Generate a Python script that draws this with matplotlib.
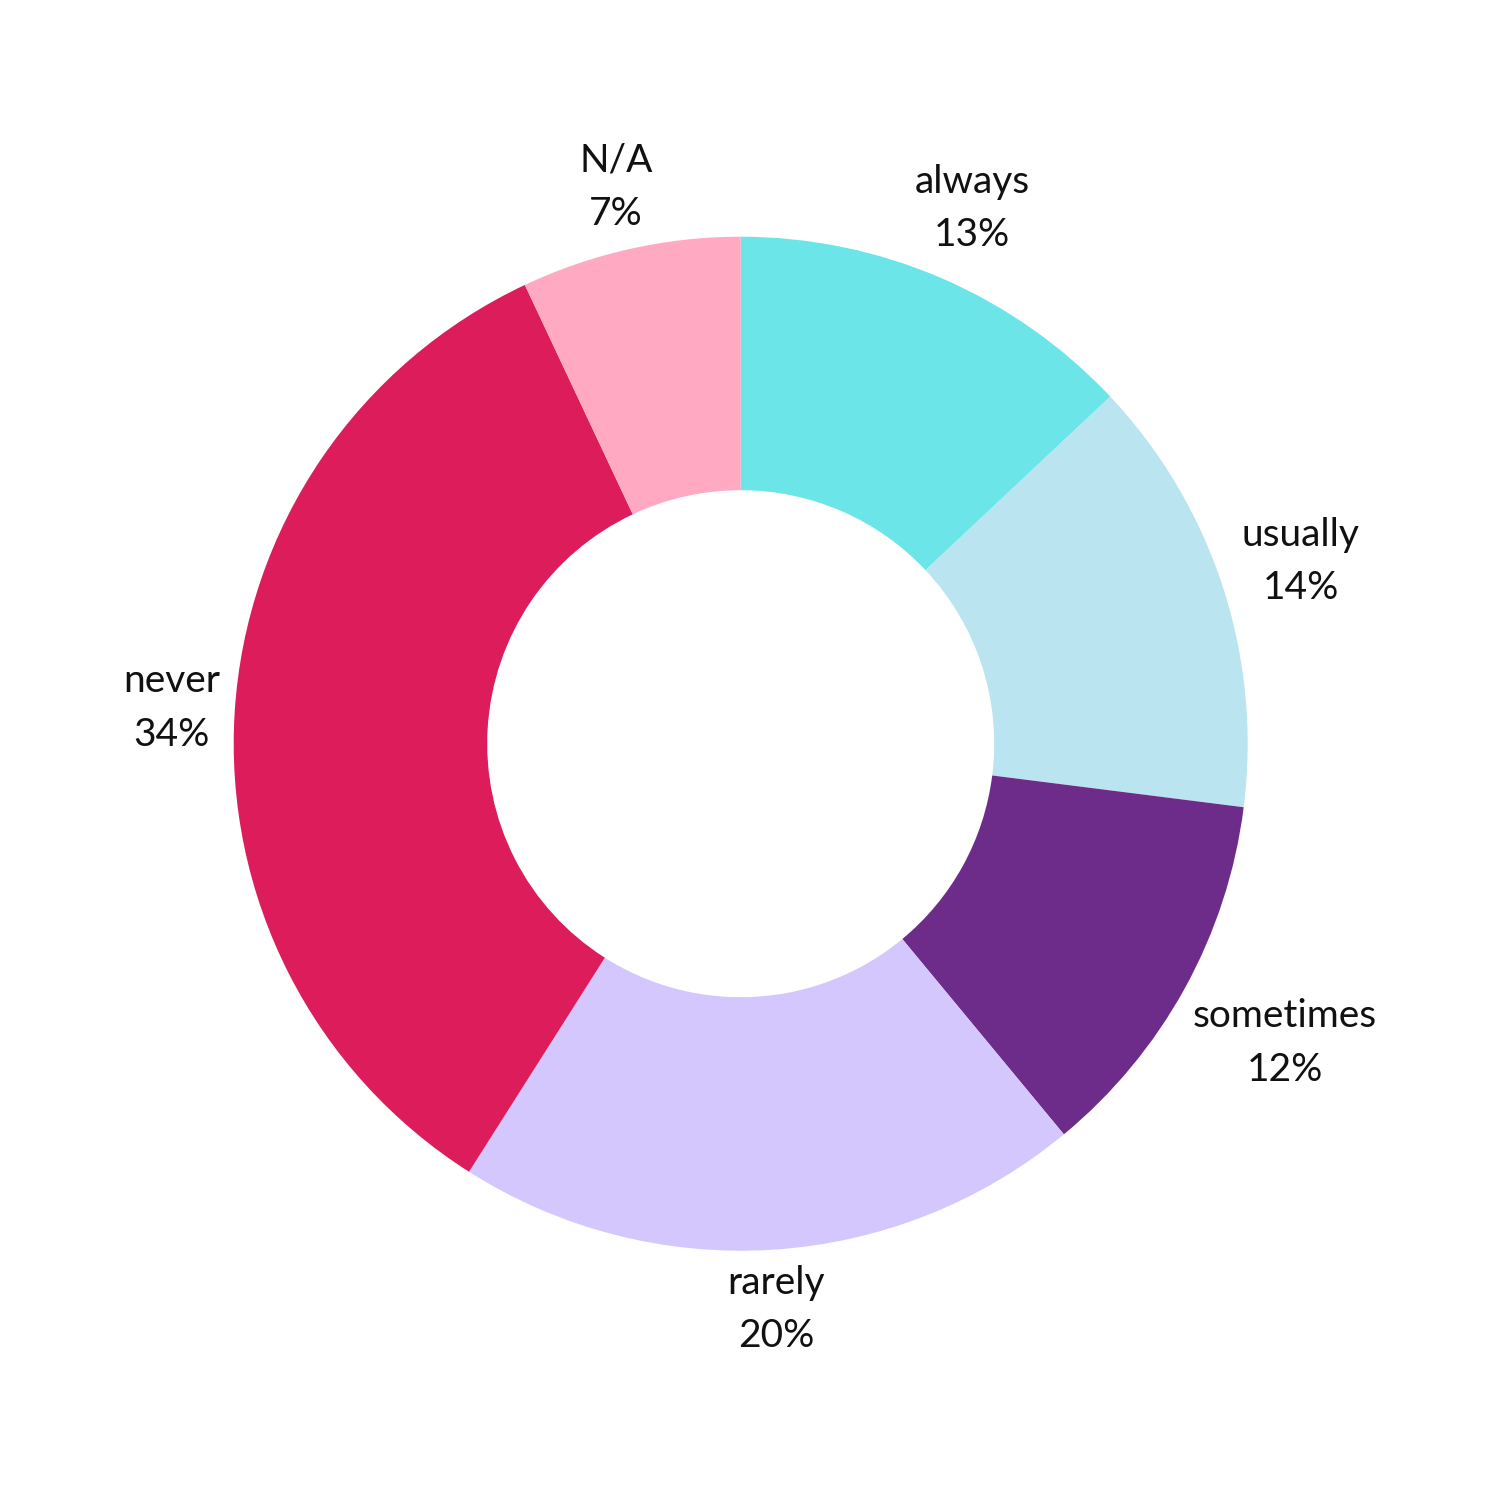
import numpy as np
import matplotlib

matplotlib.use("Agg")
import matplotlib.pyplot as plt

plt.rcParams["font.family"] = ["Lato", "DejaVu Sans"]

categories = ["always", "usually", "sometimes", "rarely", "never", "N/A"]
percents = [13, 14, 12, 20, 34, 7]
colors = ["#6CE5E8", "#BAE4EF", "#6E2C8A", "#D3C7FD", "#DC1C5B", "#FFA9C3"]

fig = plt.figure(figsize=(15, 15), dpi=100)
ax = fig.add_axes([0.0713, 0.0817, 0.845, 0.845])

wedges, _ = ax.pie(
    percents,
    colors=colors,
    startangle=90,
    counterclock=False,
    radius=1.0,
    wedgeprops=dict(width=0.5, linewidth=0),
)
ax.set_aspect("equal")

# labels pushed out past the rim, box edge just outside (like datalabels align=end)
texts = []
for w, cat, p in zip(wedges, categories, percents):
    t = ax.text(0, 0, f"{cat}\n{p}%", ha="center", va="center",
                fontsize=28, linespacing=1.6, color="#111111")
    texts.append(t)

fig.canvas.draw()
renderer = fig.canvas.get_renderer()
px_per_unit = ax.get_window_extent().width / 2.5
pad = 12 / px_per_unit
for w, t in zip(wedges, texts):
    mid = np.deg2rad((w.theta1 + w.theta2) / 2)
    ux, uy = np.cos(mid), np.sin(mid)
    bb = t.get_window_extent(renderer)
    bw = bb.width / px_per_unit
    bh = bb.height / px_per_unit
    r = w.r + pad + abs(ux) * bw / 2 + abs(uy) * bh / 2
    t.set_position((r * ux, r * uy))

fig.savefig("out.png", dpi=100)
